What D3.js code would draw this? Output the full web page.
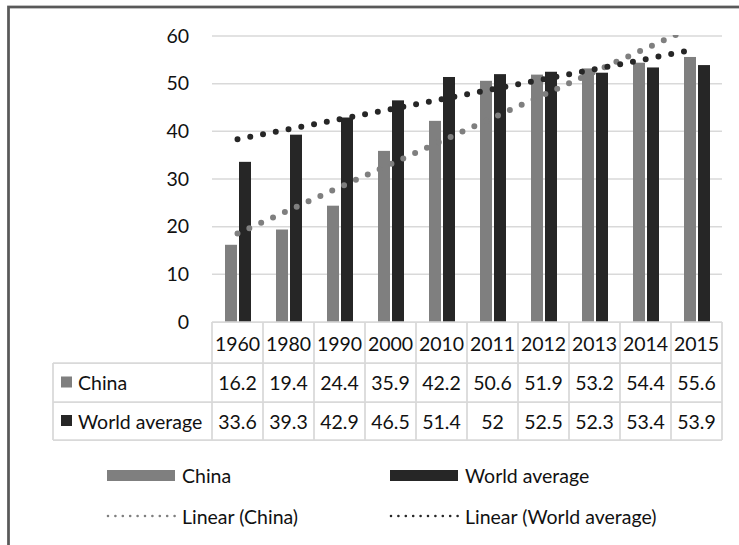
<!DOCTYPE html>
<html>
<head>
<meta charset="utf-8">
<script src="https://cdn.jsdelivr.net/npm/d3@7"></script>
<style>
  html, body { margin: 0; padding: 0; background: #fff; }
  svg { display: block; }
  text { font-family: Lato, "Open Sans", sans-serif; fill: #111; }
</style>
</head>
<body>
<svg id="chart" width="739" height="545"></svg>
<script>
const years = ["1960","1980","1990","2000","2010","2011","2012","2013","2014","2015"];
const seriesNames = ["China", "World average"];
const china = [16.2, 19.4, 24.4, 35.9, 42.2, 50.6, 51.9, 53.2, 54.4, 55.6];
const world = [33.6, 39.3, 42.9, 46.5, 51.4, 52, 52.5, 52.3, 53.4, 53.9];
const yTicks = [0, 10, 20, 30, 40, 50, 60];
const colors = ["#7f7f7f", "#262626"];

(function () {
const seriesValues = [china, world];
const FS = 19.5;

const svg = d3.select("#chart");

// outer frame (cut off at right & bottom)
svg.append("rect")
  .attr("x", 8.5).attr("y", 7).attr("width", 900).attr("height", 900)
  .attr("fill", "none").attr("stroke", "#595959").attr("stroke-width", 2.75);

const pL = 212, pR = 722, pT = 36, pB = 322;
const x = d3.scaleBand().domain(years).range([pL, pR]);
const x1 = d3.scaleBand().domain(seriesNames).range([13, 39]).paddingInner(2 / 14);
const y = d3.scaleLinear().domain([0, 60]).range([pB, pT]);

// gridlines
svg.append("g").selectAll("line").data(yTicks.filter(d => d > 0)).join("line")
  .attr("x1", pL).attr("x2", pR)
  .attr("y1", d => y(d)).attr("y2", d => y(d))
  .attr("stroke", "#d9d9d9").attr("stroke-width", 1.5);

// y axis labels
const yAxis = d3.axisLeft(y).tickValues(yTicks).tickSize(0).tickPadding(23).tickFormat(d3.format("d"));
const gy = svg.append("g").attr("transform", `translate(${pL},0)`).call(yAxis);
gy.select(".domain").remove();
gy.selectAll("text").style("font-family", "Lato, 'Open Sans', sans-serif").style("font-size", FS + "px").attr("fill", "#111");

// bars
seriesNames.forEach((s, si) => {
  svg.append("g").selectAll("rect").data(seriesValues[si]).join("rect")
    .attr("x", (d, i) => x(years[i]) + x1(s))
    .attr("width", x1.bandwidth())
    .attr("y", d => y(d))
    .attr("height", d => y(0) - y(d))
    .attr("fill", colors[si]);
});

// linear trendlines (least squares on category index)
svg.append("clipPath").attr("id", "plotClip").append("rect")
  .attr("x", pL).attr("y", pT - 1).attr("width", pR - pL).attr("height", pB - pT + 1);

function linFit(vals) {
  const xs = vals.map((v, i) => i + 1);
  const mx = d3.mean(xs), my = d3.mean(vals);
  const num = d3.sum(vals.map((v, i) => (xs[i] - mx) * (v - my)));
  const den = d3.sum(xs.map(xx => (xx - mx) ** 2));
  const b = num / den, a = my - b * mx;
  return xx => a + b * xx;
}
const trendG = svg.append("g").attr("clip-path", "url(#plotClip)");
seriesNames.forEach((s, si) => {
  const f = linFit(seriesValues[si]);
  const n = years.length;
  const pts = [[x(years[0]) + x.bandwidth() / 2, y(f(1))], [x(years[n - 1]) + x.bandwidth() / 2, y(f(n))]];
  trendG.append("path")
    .attr("d", d3.line()(pts))
    .attr("fill", "none")
    .attr("stroke", colors[si])
    .attr("stroke-width", 6)
    .attr("stroke-linecap", "round")
    .attr("stroke-dasharray", "0 13");
});

// data table
const lineColor = "#d9d9d9";
const rowY = [322, 363, 402, 440];
const tableLeft = 53;
const tg = svg.append("g");
tg.selectAll("line.h").data(rowY).join("line")
  .attr("x1", (d, i) => i === 0 ? pL : tableLeft).attr("x2", pR)
  .attr("y1", d => d).attr("y2", d => d)
  .attr("stroke", lineColor).attr("stroke-width", 1.75);
const boundaries = years.map(yr => x(yr)).concat([pR]);
tg.selectAll("line.v").data(boundaries).join("line")
  .attr("x1", d => d).attr("x2", d => d)
  .attr("y1", rowY[0]).attr("y2", rowY[3])
  .attr("stroke", lineColor).attr("stroke-width", 1.75);
tg.append("line")
  .attr("x1", tableLeft).attr("x2", tableLeft)
  .attr("y1", rowY[1]).attr("y2", rowY[3])
  .attr("stroke", lineColor).attr("stroke-width", 1.75);

tg.selectAll("text.hdr").data(years).join("text")
  .attr("x", d => x(d) + x.bandwidth() / 2)
  .attr("y", (rowY[0] + rowY[1]) / 2 + 1)
  .attr("text-anchor", "middle").attr("dominant-baseline", "central")
  .style("font-size", FS + "px")
  .text(d => d);

seriesNames.forEach((s, si) => {
  const cy = (rowY[si + 1] + rowY[si + 2]) / 2;
  tg.append("rect").attr("x", 61).attr("y", cy - 6).attr("width", 11).attr("height", 11).attr("fill", colors[si]);
  tg.append("text").attr("x", 78).attr("y", cy).attr("dominant-baseline", "central")
    .style("font-size", FS + "px").text(s);
  tg.selectAll(null).data(seriesValues[si]).join("text")
    .attr("x", (d, i) => x(years[i]) + x.bandwidth() / 2)
    .attr("y", cy)
    .attr("text-anchor", "middle").attr("dominant-baseline", "central")
    .style("font-size", FS + "px")
    .text(d => String(d));
});

// legend
const legX = [107, 390];
const lg = svg.append("g");
seriesNames.forEach((s, si) => {
  lg.append("rect").attr("x", legX[si]).attr("y", 470).attr("width", 68).attr("height", 11).attr("fill", colors[si]);
  lg.append("text").attr("x", legX[si] + 75).attr("y", 475.5).attr("dominant-baseline", "central")
    .style("font-size", FS + "px").text(s);
  lg.append("line").attr("x1", legX[si] + 1).attr("x2", legX[si] + 68).attr("y1", 516).attr("y2", 516)
    .attr("stroke", colors[si]).attr("stroke-width", 2.6).attr("stroke-linecap", "round")
    .attr("stroke-dasharray", "0 7.4");
  lg.append("text").attr("x", legX[si] + 75).attr("y", 516).attr("dominant-baseline", "central")
    .style("font-size", FS + "px").text(`Linear (${s})`);
});
})();
</script>
</body>
</html>
